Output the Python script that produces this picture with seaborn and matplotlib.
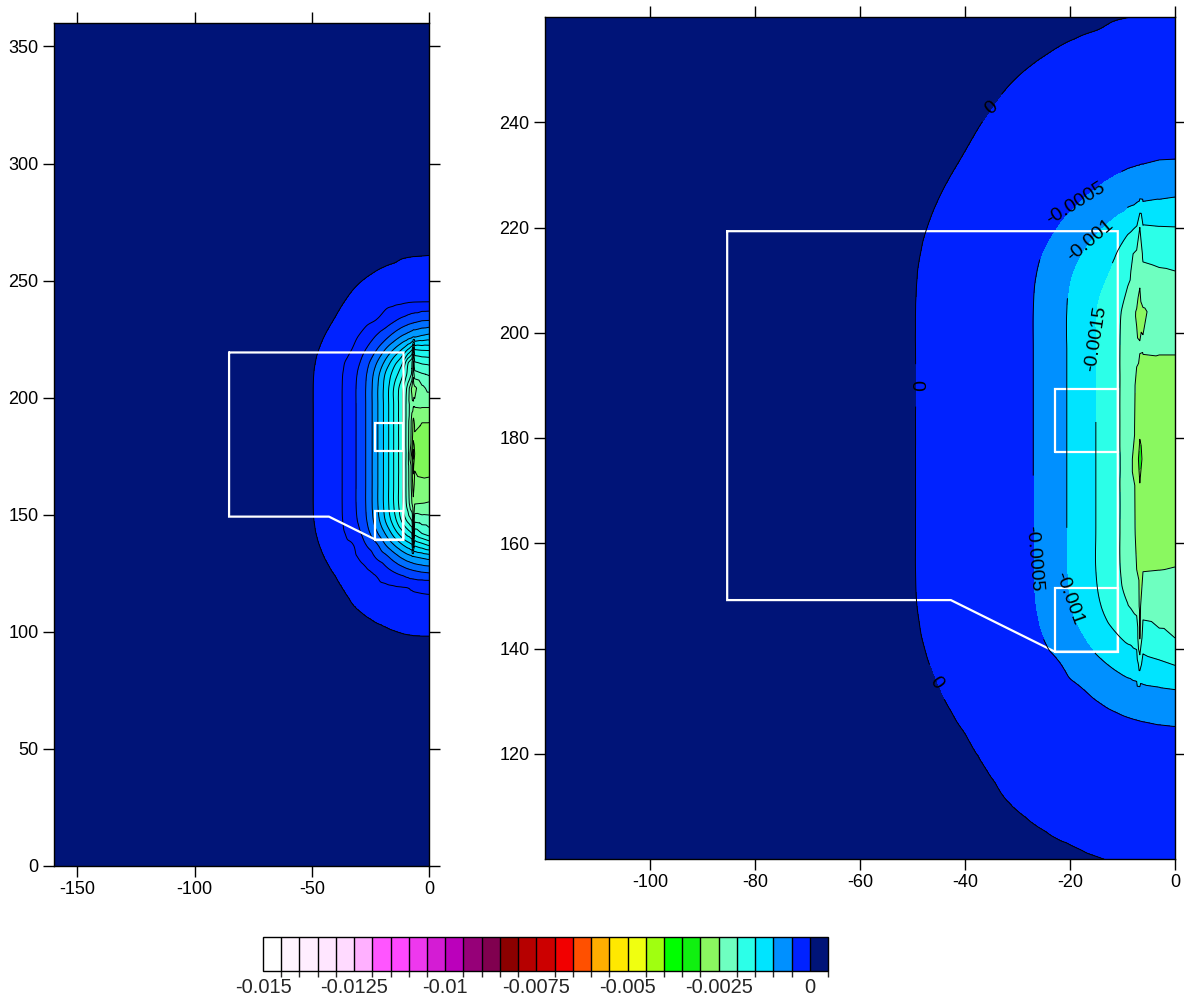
import numpy as np
import matplotlib
matplotlib.use("Agg")
import matplotlib.pyplot as plt
import matplotlib.tri as mtri
import seaborn as sns
from matplotlib.colors import ListedColormap, BoundaryNorm, to_rgb

# ---------------- data ----------------
# grid node positions
x_nodes = [-160, -110, -80, -62, -52, -45, -38, -32, -27, -22, -18, -14.5,
           -11.5, -9, -7.3, -6.7, -6.1, -3, 0]
y_nodes = [0, 50, 80, 98, 110, 119, 126, 132, 137, 142, 148, 155, 163, 171, 176,
           182, 190, 197, 204, 210, 215, 220, 226, 233, 241, 250, 260, 275, 305, 360]

# field values in units of 1e-4, one row per y node
field_e4 = [
    [1, 1, 1, 1, 1, 1, 1, 1, 1, 1, 1, 1, 1, 1, 1, 1, 1, 1, 1],
    [1, 1, 1, 1, 1, 1, 1, 1, 1, 1, 1, 1, 1, 1, 1, 1, 1, 1, 1],
    [1, 1, 1, 1, 1, 0.99, 0.9, 0.83, 0.78, 0.73, 0.7, 0.68, 0.67, 0.66, 0.65, 0.65, 0.65, 0.64, 0.64],
    [1, 1, 1, 0.98, 0.8, 0.67, 0.56, 0.45, 0.33, 0.22, 0.15, 0.1, 0.06, 0.04, 0.03, 0.02, 0.02, 0.01, 0.01],
    [1, 1, 1, 0.83, 0.62, 0.47, 0.22, 0.03, -0.12, -0.27, -0.36, -0.47, -0.55, -0.63, -0.66, -0.67, -0.68, -0.71, -0.72],
    [1, 1, 1, 0.75, 0.54, 0.3, 0.03, -0.2, -0.37, -0.6, -0.75, -0.88, -0.97, -1.03, -1.06, -1.08, -1.09, -1.12, -1.14],
    [1, 1, 1, 0.69, 0.43, 0.14, -0.15, -0.41, -0.77, -1.47, -2.49, -3.29, -3.95, -4.45, -4.75, -4.85, -4.95, -5.3, -5.5],
    [1, 1, 1, 0.64, 0.31, 0.01, -0.33, -0.76, -1.72, -3.38, -4.67, -6.15, -7.39, -8.23, -8.6, -8.77, -8.95, -9.38, -9.8],
    [1, 1, 1, 0.6, 0.23, -0.09, -0.48, -1.04, -2.91, -4.85, -7.23, -9.15, -10.73, -11.91, -12.6, -17, -13.3, -14.2, -15.2],
    [1, 1, 1, 0.57, 0.17, -0.17, -0.64, -1.89, -3.98, -6.85, -9.54, -12.09, -14.18, -15.89, -16.9, -25.3, -17.6, -19.0, -20.0],
    [1, 1, 1, 0.56, 0.13, -0.22, -0.76, -2.49, -4.76, -8.38, -11.64, -14.6, -17.5, -19.8, -21.3, -26, -21.8, -22.2, -22.3],
    [1, 1, 1, 0.55, 0.12, -0.24, -0.79, -2.66, -5.0, -8.85, -12.27, -15.56, -18.6, -22.0, -25.0, -26.5, -25.2, -25.05, -24.9],
    [1, 1, 1, 0.55, 0.12, -0.24, -0.79, -2.66, -5.0, -8.85, -12.27, -15.56, -18.6, -22.3, -25.6, -28, -26.5, -26.6, -26.5],
    [1, 1, 1, 0.55, 0.12, -0.24, -0.79, -2.66, -5.0, -8.85, -12.27, -15.56, -18.6, -22.4, -25.7, -29.8, -27.2, -27.7, -27.8],
    [1, 1, 1, 0.55, 0.12, -0.24, -0.79, -2.66, -5.0, -8.85, -12.27, -15.56, -18.6, -22.4, -27.5, -32, -29.0, -28.3, -28.5],
    [1, 1, 1, 0.55, 0.12, -0.24, -0.79, -2.66, -5.0, -8.85, -12.27, -15.56, -18.6, -22.4, -25.8, -28.8, -27.3, -28.0, -28.3],
    [1, 1, 1, 0.55, 0.12, -0.24, -0.79, -2.66, -5.0, -8.85, -12.27, -15.56, -18.6, -22.3, -25.6, -27.5, -26.6, -26.9, -26.9],
    [1, 1, 1, 0.55, 0.12, -0.24, -0.79, -2.66, -5.0, -8.85, -12.27, -15.56, -18.6, -22.2, -24.4, -24.6, -24.7, -24.6, -24.6],
    [1, 1, 1, 0.55, 0.12, -0.24, -0.79, -2.66, -5.0, -8.85, -12.27, -15.56, -18.4, -21.8, -25.4, -26.5, -25.5, -23.5, -22.5],
    [1, 1, 1, 0.56, 0.13, -0.22, -0.76, -2.49, -4.76, -8.38, -11.64, -14.2, -16.5, -19.6, -21.2, -24.5, -21.8, -21.2, -20.8],
    [1, 1, 1, 0.57, 0.16, -0.18, -0.67, -2.02, -4.14, -7.15, -9.92, -12.55, -14.6, -18.8, -20.8, -23.5, -19.2, -18.7, -18.5],
    [1, 1, 1, 0.6, 0.22, -0.11, -0.5, -1.26, -3.14, -5.31, -7.69, -9.7, -11.5, -13.6, -15.3, -20.0, -15.5, -15.2, -15.1],
    [1, 1, 1, 0.64, 0.31, 0.01, -0.33, -0.76, -1.72, -3.38, -4.67, -6.1, -7.3, -8.1, -8.6, -9.0, -8.85, -9.38, -9.8],
    [1, 1, 1, 0.7, 0.46, 0.17, -0.12, -0.37, -0.7, -1.13, -2.11, -2.87, -3.57, -4.0, -4.24, -4.3, -4.4, -4.9, -5.0],
    [1, 1, 1, 0.77, 0.55, 0.33, 0.07, -0.15, -0.33, -0.5, -0.62, -0.72, -0.8, -0.86, -0.9, -0.92, -0.93, -0.96, -0.97],
    [1, 1, 1, 0.85, 0.65, 0.51, 0.29, 0.1, -0.04, -0.18, -0.28, -0.35, -0.39, -0.45, -0.48, -0.49, -0.5, -0.54, -0.55],
    [1, 1, 1, 0.98, 0.79, 0.68, 0.56, 0.45, 0.33, 0.22, 0.15, 0.1, 0.03, 0.005, -0.005, -0.01, -0.01, -0.02, -0.03],
    [1, 1, 1, 1, 1, 0.94, 0.84, 0.77, 0.72, 0.67, 0.64, 0.62, 0.6, 0.59, 0.58, 0.58, 0.58, 0.58, 0.58],
    [1, 1, 1, 1, 1, 1, 1, 1, 1, 1, 1, 1, 1, 1, 1, 1, 1, 1, 1],
    [1, 1, 1, 1, 1, 1, 1, 1, 1, 1, 1, 1, 1, 1, 1, 1, 1, 1, 1],
]

# colour of each 0.0005-wide bin, from -0.015 up to +0.0005
bin_colors = ["#FFFFFF", "#FFF4FF", "#FFEEFF", "#FFE6FF", "#FFDAFF", "#FFB0FF",
              "#FF55FF", "#FF48FF", "#EE38EE", "#D41CD4", "#BB00BB", "#960078",
              "#80004F", "#8C0000", "#B60000", "#CC0000", "#F20000", "#FF5000",
              "#FFAE00", "#FFE800", "#F0FF10", "#A0FF10", "#00FF00", "#10F010",
              "#8AF860", "#6EFFC0", "#2CFFE8", "#00E4FF", "#0090FF", "#0022FF",
              "#001478"]
cbar_ticks = [-0.015, -0.0125, -0.01, -0.0075, -0.005, -0.0025, 0.0]

# white model outlines
outline_x = [-85.3, -10.9, -10.9, -22.9, -42.7, -85.3, -85.3]
outline_y = [219.3, 219.3, 139.4, 139.4, 149.2, 149.2, 219.3]
box_upper_x = [-22.9, -10.9, -10.9, -22.9, -22.9]
box_upper_y = [177.3, 177.3, 189.3, 189.3, 177.3]
box_lower_x = [-22.9, -10.9, -10.9, -22.9, -22.9]
box_lower_y = [139.4, 139.4, 151.5, 151.5, 139.4]

# contour label placement (right panel)
label_levels = [-0.0015, -0.001, -0.0005, 0.0]
label_points = [(-35.6, 244.2), (-49.5, 190.0), (-45.5, 133.5),
                (-18.5, 223.5), (-26.6, 157.0),
                (-15.5, 216.0), (-20.0, 149.5),
                (-14.5, 199.0)]

# ---------------- styling ----------------
sns.set_theme(style="ticks")
plt.rcParams["font.family"] = ["Liberation Sans", "DejaVu Sans"]
plt.rcParams["axes.unicode_minus"] = False
plt.rcParams["contour.negative_linestyle"] = "solid"

X = np.array(x_nodes, dtype=float)
Y = np.array(y_nodes, dtype=float)
Z = np.array(field_e4, dtype=float) * 1e-4

# triangulate the grid and smooth it with matplotlib's own refiner
nx, ny = len(X), len(Y)
Xg, Yg = np.meshgrid(X, Y)
tris = []
for j in range(ny - 1):
    for i in range(nx - 1):
        a = j * nx + i
        b, c, d = a + 1, a + nx, a + nx + 1
        tris.append([a, b, d])
        tris.append([a, d, c])
tri = mtri.Triangulation(Xg.ravel(), Yg.ravel(), np.array(tris))
zf = Z.ravel()
refiner = mtri.UniformTriRefiner(tri)
tri_r, z_cub = refiner.refine_field(zf, triinterpolator=mtri.CubicTriInterpolator(tri, zf, kind="geom"), subdiv=3)
_, z_lin = refiner.refine_field(zf, triinterpolator=mtri.LinearTriInterpolator(tri, zf), subdiv=3)
w = np.clip((-tri_r.x - 8.0) / 3.0, 0.0, 1.0)
z_r = w * z_cub + (1.0 - w) * z_lin

# right panel: 0.0005 bins
right_levels = np.round(np.linspace(-0.015, 0.0005, 32), 7)
cmap_r = ListedColormap(bin_colors)
norm_r = BoundaryNorm(right_levels, cmap_r.N)

# left panel: finer bands
left_levels = np.round(np.concatenate([np.arange(-0.0035, -0.00005, 0.0002), [0.0, 0.0005]]), 7)
centers = right_levels[:-1] + 0.00025
anchor_rgb = np.array([to_rgb(c) for c in bin_colors])
left_cols = []
for lo, hi in zip(left_levels[:-1], left_levels[1:]):
    m = 0.5 * (lo + hi)
    if m > 0:
        left_cols.append(anchor_rgb[-1])
    else:
        mm = min(m, centers[-2])
        rgb = [np.interp(mm, centers[:-1], anchor_rgb[:-1, k]) for k in range(3)]
        left_cols.append(rgb)
cmap_l = ListedColormap(left_cols)
norm_l = BoundaryNorm(left_levels, cmap_l.N)


def fmt(v):
    return "0" if abs(v) < 1e-12 else f"{v:g}"


W, H = 1184, 998
fig = plt.figure(figsize=(W / 100, H / 100), dpi=100)
axL = fig.add_axes([54 / W, 1 - 866 / H, (429 - 54) / W, (866 - 23) / H])
axR = fig.add_axes([545 / W, 1 - 859 / H, (1175 - 545) / W, (859 - 17) / H])
cax = fig.add_axes([263 / W, 1 - 971 / H, (828 - 263) / W, 34 / H])

# left panel
axL.tricontourf(tri_r, z_r, levels=left_levels, cmap=cmap_l, norm=norm_l)
axL.tricontour(tri_r, z_r, levels=left_levels[:-1], colors="black", linewidths=0.7,
               linestyles="solid")
for xs, ys in [(outline_x, outline_y), (box_upper_x, box_upper_y), (box_lower_x, box_lower_y)]:
    axL.plot(xs, ys, color="white", lw=1.6, solid_joinstyle="miter")
axL.set_xlim(-160, 0)
axL.set_ylim(0, 360)
axL.set_xticks([-150, -100, -50, 0])
axL.set_yticks(list(range(0, 351, 50)))

# right panel
cfR = axR.tricontourf(tri_r, z_r, levels=right_levels, cmap=cmap_r, norm=norm_r)
other_levels = [lv for lv in right_levels[:-1]
                if not any(abs(lv - t) < 1e-9 for t in label_levels)]
axR.tricontour(tri_r, z_r, levels=other_levels, colors="black", linewidths=0.7,
               linestyles="solid")
for xs, ys in [(outline_x, outline_y), (box_upper_x, box_upper_y), (box_lower_x, box_lower_y)]:
    axR.plot(xs, ys, color="white", lw=1.6, solid_joinstyle="miter")
csLab = axR.tricontour(tri_r, z_r, levels=label_levels, colors="black", linewidths=0.7,
                       linestyles="solid")
axR.clabel(csLab, manual=label_points, fmt=fmt, fontsize=14,
           inline=True, inline_spacing=4, colors="black")
axR.set_xlim(-120, 0)
axR.set_ylim(100, 260)
axR.set_xticks([-100, -80, -60, -40, -20, 0])
axR.set_yticks([120, 140, 160, 180, 200, 220, 240])

for ax in (axL, axR):
    ax.tick_params(direction="out", top=True, right=True, length=8, width=1,
                   labelsize=13, colors="black", pad=3)
    for s in ax.spines.values():
        s.set_visible(True)
        s.set_color("black")
        s.set_linewidth(1)

# colour bar
cb = fig.colorbar(cfR, cax=cax, orientation="horizontal", ticks=cbar_ticks, drawedges=True)
cb.dividers.set_color("black")
cb.dividers.set_linewidth(1)
cb.outline.set_edgecolor("black")
cb.outline.set_linewidth(1)
cb.ax.tick_params(length=0, labelsize=14.5, pad=5)
cb.ax.set_xticklabels([fmt(t) for t in cbar_ticks])

fig.savefig("out.png", dpi=100, facecolor="white")
